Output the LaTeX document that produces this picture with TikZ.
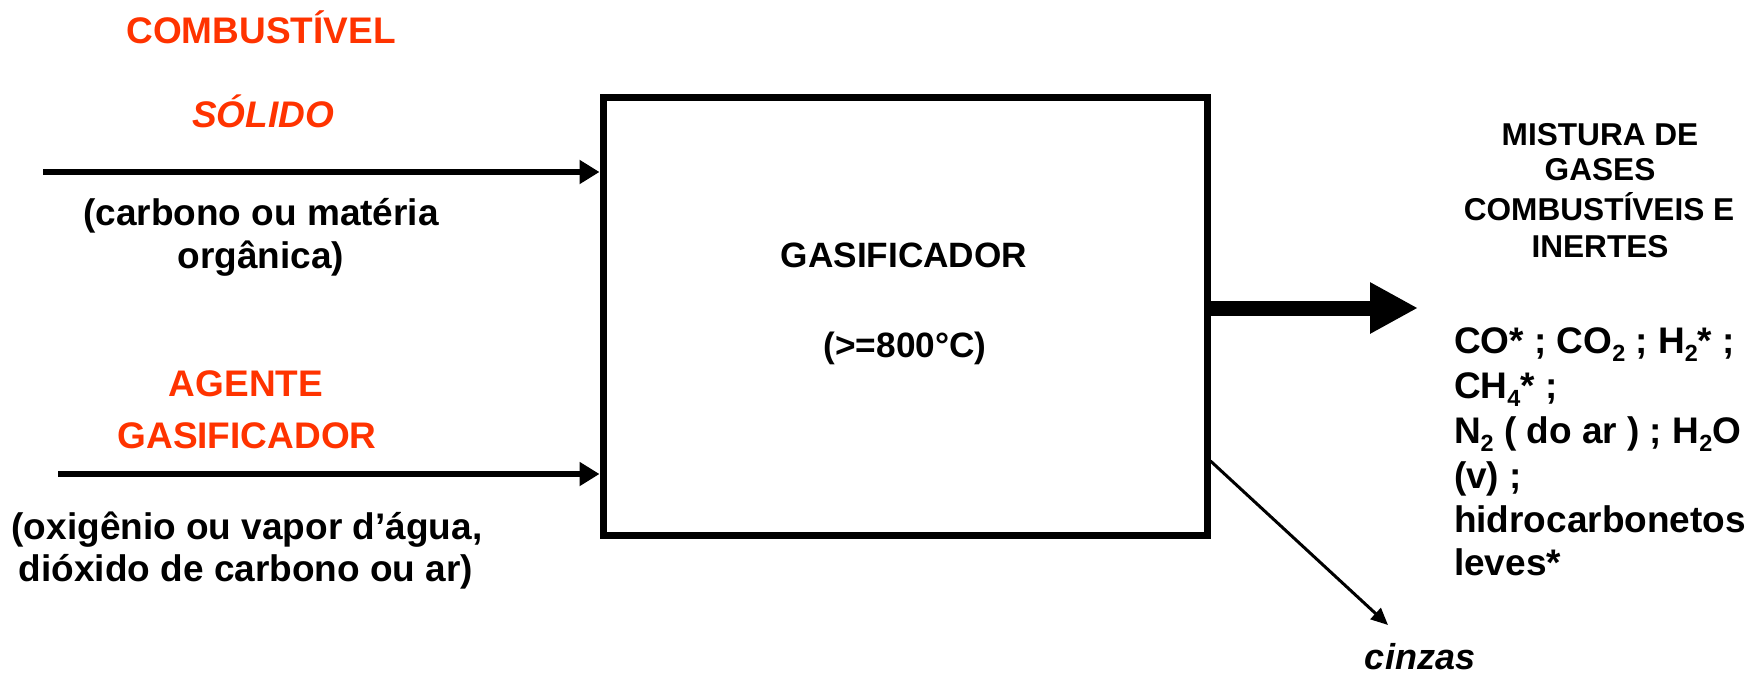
\documentclass[tikz,border=0pt]{standalone}
\usepackage{fontspec}
\setmainfont{Liberation Sans}
\usetikzlibrary{arrows.meta}
\definecolor{fuelred}{RGB}{255,51,0}
\newcommand\sbs[1]{\raisebox{-4pt}{\fontsize{11.7}{12}\selectfont #1}}
\begin{document}
\begin{tikzpicture}[x=0.5pt,y=-0.5pt,
  lbl/.style={font=\bfseries\fontsize{18.5}{20}\selectfont, anchor=base, inner sep=0pt, outer sep=0pt},
  redlbl/.style={lbl, text=fuelred},
  boxlbl/.style={font=\bfseries\fontsize{17.6}{20}\selectfont, anchor=base, inner sep=0pt},
  mixlbl/.style={font=\bfseries\fontsize{15.8}{18}\selectfont, anchor=base, inner sep=0pt},
  gaslbl/.style={lbl, anchor=base west},
  gasbox/.style={draw=black, line width=3.5pt, outer sep=1.75pt, minimum width=302pt, minimum height=219pt, inner sep=0pt},
  inarrow/.style={line width=3pt, -{Triangle[length=10pt,width=11.5pt]}},
  outarrow/.style={line width=7.5pt, -{Triangle[length=24pt,width=24pt]}},
  asharrow/.style={line width=1.5pt, -{Triangle[length=8.5pt,width=7.5pt]}}
]
\useasboundingbox (0,0) rectangle (1760,675);

% main box
\node[gasbox] (box) at (905,316) {};
\node[boxlbl] (boxtitle) at (904,267) {GASIFICADOR};
\node[boxlbl] (boxtemp) at (905,357) {(>=800°C)};

% fuel input
\node[redlbl] (fuel1) at (261,43) {COMBUSTÍVEL};
\node[redlbl, font=\bfseries\itshape\fontsize{18.5}{20}\selectfont] (fuel2) at (263,127) {SÓLIDO};
\node[lbl] (fuel3) at (261,225) {(carbono ou matéria};
\node[lbl] (fuel4) at (261,268) {orgânica)};
\coordinate (fuelstart) at (43,172);
\draw[inarrow] (fuelstart) -- (fuelstart -| box.west);

% gasifying agent input
\node[redlbl] (agent1) at (246,396) {AGENTE};
\node[redlbl] (agent2) at (247,448) {GASIFICADOR};
\node[lbl] (agent3) at (247,539) {(oxigênio ou vapor d’água,};
\node[lbl] (agent4) at (246,581) {dióxido de carbono ou ar)};
\coordinate (agentstart) at (58,474);
\draw[inarrow] (agentstart) -- (agentstart -| box.west);

% gas output
\coordinate (gastip) at (1418,308);
\draw[outarrow] (box.east |- gastip) -- (gastip);
\node[mixlbl] (mix1) at (1600,145) {MISTURA DE};
\node[mixlbl] (mix2) at (1600,180) {GASES};
\node[mixlbl] (mix3) at (1599,220) {COMBUSTÍVEIS E};
\node[mixlbl] (mix4) at (1600,257) {INERTES};

\node[gaslbl] (g1) at (1454,353) {CO* ; CO\sbs{2} ; H\sbs{2}* ;};
\node[gaslbl] (g2) at (1454,398) {CH\sbs{4}* ;};
\node[gaslbl] (g3) at (1454,443) {N\sbs{2} ( do ar ) ; H\sbs{2}O};
\node[gaslbl] (g4) at (1454,488) {(v) ;};
\node[gaslbl] (g5) at (1454,532) {hidrocarbonetos};
\node[gaslbl] (g6) at (1454,575) {leves*};

% ashes
\coordinate (ashlevel) at (0,461);
\coordinate (ashtip) at (1388,625);
\draw[asharrow] (box.east |- ashlevel) -- (ashtip);
\node[lbl, font=\bfseries\itshape\fontsize{18}{20}\selectfont] (ash) at (1420,669) {cinzas};
\end{tikzpicture}
\end{document}
